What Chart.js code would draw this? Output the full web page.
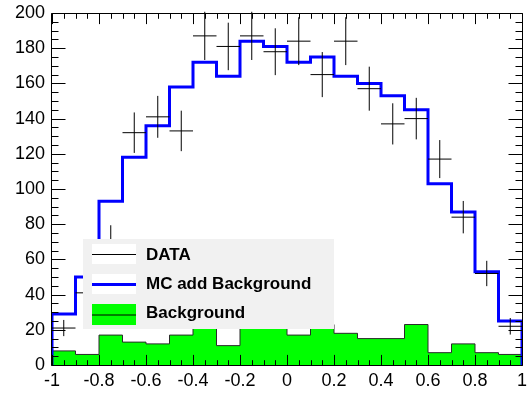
<!DOCTYPE html>
<html>
<head>
<meta charset="utf-8">
<script src="https://cdn.jsdelivr.net/npm/chart.js@4.4.1/dist/chart.umd.min.js"></script>
<style>
html,body{margin:0;padding:0;background:#ffffff;}
#wrap{width:527px;height:395px;position:relative;}
</style>
</head>
<body>
<div id="wrap"><canvas id="c" width="527" height="395"></canvas></div>
<script>
// ---- data ----
const binEdges = [-1, -0.9, -0.8, -0.7, -0.6, -0.5, -0.4, -0.3, -0.2, -0.1, 0,
                  0.1, 0.2, 0.3, 0.4, 0.5, 0.6, 0.7, 0.8, 0.9, 1];
const mcValues   = [29, 50, 93, 118, 136, 158, 172, 164, 184, 181,
                    172, 175, 164, 160, 153, 145, 103, 87, 53, 25];
const bkgValues  = [8, 6, 17, 13, 12, 17, 23, 11, 24, 22,
                    17, 23, 18, 15, 15, 23, 7, 12, 7, 6];
const dataValues = [21, 41, 71, 132, 141, 133, 187, 181, 187, 178,
                    184, 165, 184, 157, 137, 140, 117, 84, 52, 22];
const dataErrors = [4.6, 6.4, 8.4, 11.5, 11.9, 11.5, 13.7, 13.5, 13.7, 13.3,
                    13.6, 12.8, 13.6, 12.5, 11.7, 11.8, 10.8, 9.2, 7.2, 4.7];
const xTickLabels = ['-1', '-0.8', '-0.6', '-0.4', '-0.2', '0', '0.2', '0.4', '0.6', '0.8', '1'];
const yTickLabels = ['0', '20', '40', '60', '80', '100', '120', '140', '160', '180', '200'];
const legendLabels = ['DATA', 'MC add Background', 'Background'];

function stepPoints(vals) {
  const n = vals.length;
  const pts = [{x: binEdges[0], y: 0}];
  for (let i = 0; i < n; i++) pts.push({x: binEdges[i], y: vals[i]});
  pts.push({x: binEdges[n], y: vals[n - 1]});
  pts.push({x: binEdges[n], y: 0});
  return pts;
}
function dataPoints() {
  return dataValues.map((v, i) => ({
    x: (binEdges[i] + binEdges[i + 1]) / 2, y: v,
    xl: binEdges[i], xh: binEdges[i + 1], err: dataErrors[i]
  }));
}

Chart.defaults.font.family = "'Liberation Sans', Arial, Helvetica, sans-serif";
Chart.defaults.color = '#000';

const crossPlugin = {
  id: 'crosses',
  afterDatasetsDraw(chart) {
    const {ctx, scales: {x, y}} = chart;
    const ds = chart.data.datasets[0];
    ctx.save();
    ctx.strokeStyle = '#000';
    ctx.lineWidth = 1;
    ctx.beginPath();
    ds.data.forEach(p => {
      const py = y.getPixelForValue(p.y);
      ctx.moveTo(x.getPixelForValue(p.xl), py);
      ctx.lineTo(x.getPixelForValue(p.xh), py);
      const px = x.getPixelForValue(p.x);
      ctx.moveTo(px, y.getPixelForValue(p.y - p.err));
      ctx.lineTo(px, y.getPixelForValue(p.y + p.err));
    });
    ctx.stroke();
    ctx.restore();
  }
};

const legendPlugin = {
  id: 'rootLegend',
  afterDraw(chart) {
    const {ctx, chartArea: ca} = chart;
    const L = ca.left + 31, T = ca.top + 226, W = 251, H = 90;
    ctx.save();
    ctx.fillStyle = '#f1f1f1';
    ctx.fillRect(L, T, W, H);
    const sx = L + 9, sw = 44;
    const rows = [T + 15, T + 45, T + 75.5];
    // DATA
    ctx.fillStyle = '#ffffff';
    ctx.fillRect(sx, rows[0] - 10, sw, 20);
    ctx.strokeStyle = '#000'; ctx.lineWidth = 1;
    ctx.beginPath(); ctx.moveTo(sx, rows[0] + 0.5); ctx.lineTo(sx + sw, rows[0] + 0.5); ctx.stroke();
    // MC
    ctx.fillRect(sx, rows[1] - 10, sw, 20);
    ctx.strokeStyle = '#0000ff'; ctx.lineWidth = 3;
    ctx.beginPath(); ctx.moveTo(sx, rows[1] + 0.5); ctx.lineTo(sx + sw, rows[1] + 0.5); ctx.stroke();
    // Background
    ctx.fillStyle = '#00ff00';
    ctx.fillRect(sx, rows[2] - 10.5, sw, 21);
    ctx.strokeStyle = '#000'; ctx.lineWidth = 1;
    ctx.beginPath(); ctx.moveTo(sx, rows[2] + 0.5); ctx.lineTo(sx + sw, rows[2] + 0.5); ctx.stroke();
    // text
    ctx.fillStyle = '#000';
    ctx.font = "bold 17px 'Liberation Sans', Arial, sans-serif";
    ctx.textBaseline = 'middle';
    ctx.textAlign = 'left';
    ctx.fillText(legendLabels[0], L + 63, rows[0] + 1);
    ctx.fillText(legendLabels[1], L + 63, rows[1]);
    ctx.fillText(legendLabels[2], L + 63, rows[2] - 1.5);
    ctx.restore();
  }
};

const framePlugin = {
  id: 'frame',
  afterDraw(chart) {
    const {ctx, chartArea: ca, scales: {x, y}} = chart;
    ctx.save();
    ctx.strokeStyle = '#000';
    ctx.lineWidth = 1;
    const lx = Math.round(ca.left) - 0.5, rx = Math.round(ca.right) + 0.5;
    const ty = Math.round(ca.top) + 0.5, by = Math.round(ca.bottom) + 0.5;
    ctx.beginPath();
    ctx.moveTo(lx, ty); ctx.lineTo(rx, ty); ctx.lineTo(rx, by); ctx.lineTo(lx, by); ctx.closePath();
    const xMaj = 10.6, xMin = 5.3, yMaj = 14, yMin = 7;
    for (let k = 0; k <= 40; k++) {
      const px = Math.round(x.getPixelForValue(x.min + k * (x.max - x.min) / 40)) + 0.5;
      const len = (k % 4 === 0) ? xMaj : xMin;
      ctx.moveTo(px, by); ctx.lineTo(px, by - len);
      ctx.moveTo(px, ty); ctx.lineTo(px, ty + len);
    }
    for (let k = 0; k <= 40; k++) {
      const py = Math.round(y.getPixelForValue(y.min + k * (y.max - y.min) / 40)) + 0.5;
      const len = (k % 4 === 0) ? yMaj : yMin;
      ctx.moveTo(lx, py); ctx.lineTo(lx + len, py);
      ctx.moveTo(rx, py); ctx.lineTo(rx - len, py);
    }
    ctx.stroke();
    ctx.restore();
  }
};

new Chart(document.getElementById('c'), {
  type: 'line',
  data: {
    datasets: [
      {
        label: legendLabels[0], type: 'scatter', data: dataPoints(),
        pointRadius: 0, showLine: false, order: 1
      },
      {
        label: legendLabels[1], data: stepPoints(mcValues), stepped: 'before',
        borderColor: '#0000ff', borderWidth: 3, pointRadius: 0, fill: false,
        order: 2, borderJoinStyle: 'miter'
      },
      {
        label: legendLabels[2], data: stepPoints(bkgValues), stepped: 'before',
        borderColor: '#2a2a2a', borderWidth: 1, backgroundColor: '#00ff00',
        pointRadius: 0, fill: 'origin', order: 3
      }
    ]
  },
  options: {
    responsive: false,
    animation: false,
    events: [],
    layout: {padding: {left: 0, right: 5, top: 13, bottom: 0}},
    plugins: {legend: {display: false}, tooltip: {enabled: false}},
    scales: {
      x: {
        type: 'linear', min: -1, max: 1,
        grid: {display: false, drawTicks: false},
        border: {display: false},
        ticks: {
          stepSize: 0.2, padding: 5, maxRotation: 0, autoSkip: false,
          font: {size: 18}, color: '#000',
          callback: (v, i) => xTickLabels[i]
        },
        afterFit: s => { s.height = 30; s.paddingLeft = 0; s.paddingRight = 0; }
      },
      y: {
        type: 'linear', min: 0, max: 200,
        grid: {display: false, drawTicks: false},
        border: {display: false},
        ticks: {
          stepSize: 20, padding: 7, autoSkip: false,
          font: {size: 18}, color: '#000',
          callback: (v, i) => yTickLabels[i]
        },
        afterFit: s => { s.width = 52; s.paddingTop = 0; s.paddingBottom = 0; }
      }
    }
  },
  plugins: [crossPlugin, legendPlugin, framePlugin]
});
</script>
</body>
</html>
